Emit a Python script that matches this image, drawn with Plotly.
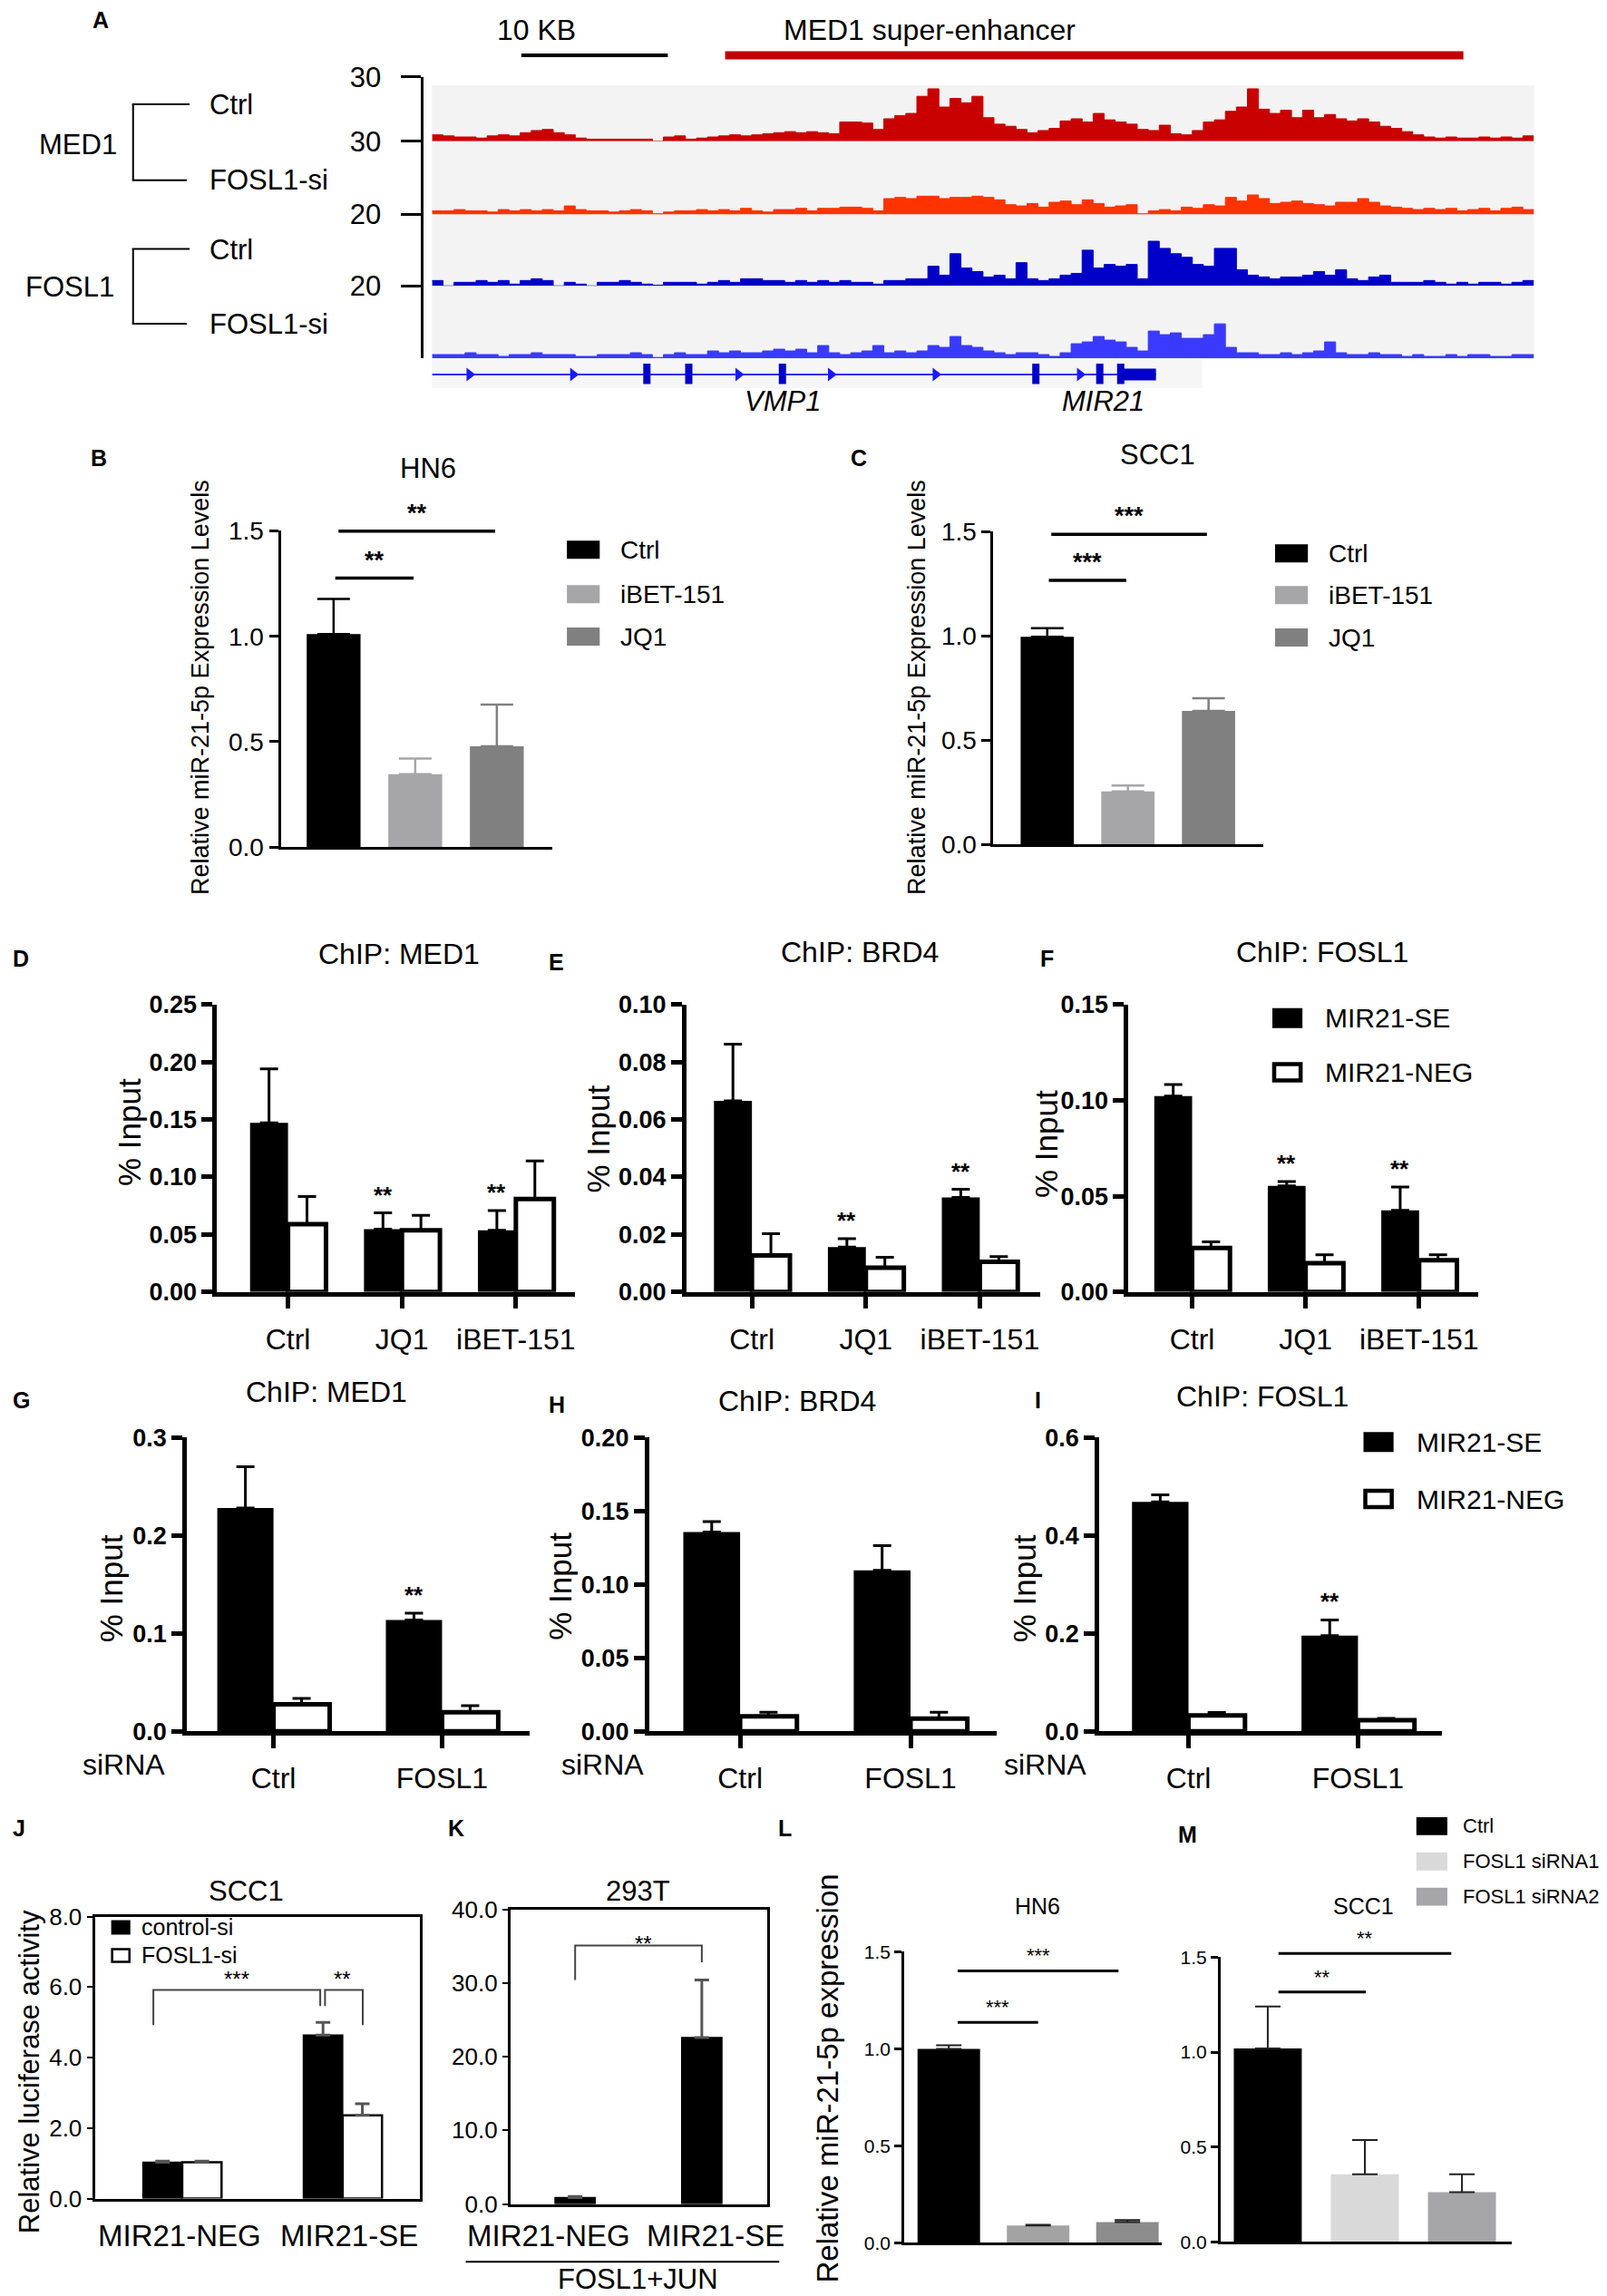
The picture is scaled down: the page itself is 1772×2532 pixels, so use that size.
import plotly.graph_objects as go

W, H = 1772, 2532
FONT = "Liberation Sans, Arial, Helvetica, sans-serif"

# ---------------- A: ChIP-seq coverage at the MIR21 locus (100 bins) ----------------
med1_ctrl = [3, 2.5, 2, 2, 1.5, 2.5, 3, 2.5, 4, 5, 5.5, 4, 3, 1.5, 1, 1, 1, 1, 1, 1,
             0, 2, 2.5, 1, 1.5, 2, 2.5, 3, 2.5, 3, 3.5, 4, 4.5, 4, 4.5, 4, 3.5, 9, 9, 8.5,
             5.5, 10.5, 12, 13, 21, 24.5, 16, 20, 18, 21, 11, 8, 7, 5.5, 4, 5, 6, 9.5, 10.5, 9,
             13, 10, 9, 8, 5.5, 5, 7.5, 3.5, 3, 5, 9, 10, 14, 16, 24.5, 15, 13, 14.5, 11, 14.5,
             11, 12.5, 10.5, 9.5, 10.5, 9, 7, 6, 4.5, 3, 2, 1.5, 2, 1.5, 1.5, 2, 1.5, 2, 1.5, 2.5]
med1_fosl1si = [1.5, 1.5, 2, 1.5, 1.5, 1, 2, 1.5, 2, 1.5, 2, 1.5, 3.5, 2, 1.5, 1.5, 1, 1.5, 2, 1.5,
                0.3, 1, 1.5, 1.5, 2, 1.5, 2, 1.5, 2.5, 1.5, 1, 2, 2, 2.5, 1.5, 2.5, 2.5, 3, 3, 2.5,
                1.5, 6.5, 7, 6.5, 7.5, 7.5, 6.5, 7, 7, 7.5, 7, 6, 4, 3.5, 4.5, 3, 5, 5.5, 4, 6,
                4.5, 3, 3.5, 4, 0.3, 1.5, 2, 1.5, 3, 2.5, 4, 3.5, 7, 5.5, 8, 6.5, 4.5, 5, 5.5, 4.5,
                4, 3.5, 5, 5, 6.5, 5, 3.5, 3, 2.5, 2, 2.5, 2, 2.5, 1.5, 2, 2.5, 1.5, 2.5, 3, 2]
fosl1_ctrl = [1.5, 0, 1, 1, 1.5, 1, 1.5, 0.5, 1.5, 2, 1.5, 0, 1, 0.5, 0, 1, 1, 1.5, 1, 0.5,
              0.2, 1, 1, 1, 0.5, 1, 1.5, 1, 2, 2, 1.5, 1.5, 1, 1.5, 1, 1.5, 1, 1.5, 1, 1,
              0.5, 1.5, 1.5, 2, 2, 5.5, 3, 9, 5, 4, 2.5, 3, 2, 6.5, 2, 1.5, 2, 3, 3.5, 10,
              5, 6, 5.5, 6, 2, 12.5, 10.5, 9, 8, 6, 5.5, 10.5, 10.5, 4.5, 3, 2.5, 2, 2.5, 2.5, 3,
              4, 3, 4.5, 2, 1.5, 2.5, 3, 1, 1, 1, 1.5, 1, 0.5, 1, 0.5, 1, 1, 0.5, 1, 1.5]
fosl1_fosl1si = [1, 1, 1, 1.5, 1, 1, 0.5, 1, 1, 1.5, 1, 1, 1, 0.5, 0.5, 1, 1, 1, 1.5, 1,
                 0.2, 1, 1.5, 1, 1, 2, 1.5, 2, 1.5, 1.5, 2, 2.5, 2, 2.5, 1.5, 3.5, 1.5, 1, 1.5, 2,
                 3.5, 1.5, 2, 1.5, 2, 3.5, 3, 6, 3.5, 3, 2, 1.5, 1, 1.5, 1.5, 1, 0.5, 1.5, 4, 4.5,
                 6, 5, 4.5, 3, 2, 7.5, 6.5, 7, 5.5, 5.5, 6.5, 9.5, 3, 1.5, 1.5, 1, 1, 1.5, 1, 1.5,
                 2, 4.5, 1.5, 1, 1, 1.5, 1, 1, 0.5, 1, 0.5, 0.5, 1, 0.5, 1, 1, 0.5, 0.5, 1, 1]
track_max = [30, 30, 20, 20]
exon_bins = [19.5, 23.3, 31.8, 54.8, 60.6]
arrow_bins = [3.4, 12.8, 27.8, 36.2, 45.7, 58.8]
mir21_bins = [62.5, 65.7]
super_enhancer_bins = [26.6, 93.6]
scale_10kb_bins = [8.1, 21.4]

# ---------------- B, C: miR-21-5p after BET inhibition ----------------
bet_groups = ["Ctrl", "iBET-151", "JQ1"]
hn6_mean = [1.01, 0.346, 0.479]
hn6_sd = [0.167, 0.074, 0.197]
scc1_mean = [0.996, 0.255, 0.641]
scc1_sd = [0.042, 0.028, 0.060]

# ---------------- D-F: ChIP-qPCR after BET inhibition ----------------
chip_groups = ["Ctrl", "JQ1", "iBET-151"]
med1_se, med1_se_sd = [0.147, 0.0547, 0.0537], [0.047, 0.014, 0.017]
med1_neg, med1_neg_sd = [0.0589, 0.0537, 0.0809], [0.024, 0.013, 0.033]
brd4_se, brd4_se_sd = [0.0665, 0.0156, 0.0329], [0.0197, 0.0029, 0.0028]
brd4_neg, brd4_neg_sd = [0.0127, 0.0084, 0.0105], [0.0076, 0.0037, 0.0018]
fosl1_se, fosl1_se_sd = [0.1022, 0.0553, 0.0426], [0.006, 0.0023, 0.0122]
fosl1_neg, fosl1_neg_sd = [0.0229, 0.015, 0.0166], [0.0032, 0.0044, 0.0028]

# ---------------- G-I: ChIP-qPCR after FOSL1 knockdown ----------------
si_groups = ["Ctrl", "FOSL1"]
g_se, g_se_sd = [0.2281, 0.1136], [0.042, 0.007]
g_neg, g_neg_sd = [0.0276, 0.0193], [0.006, 0.0068]
h_se, h_se_sd = [0.1357, 0.1095], [0.007, 0.0168]
h_neg, h_neg_sd = [0.0102, 0.0086], [0.0027, 0.0043]
i_se, i_se_sd = [0.4685, 0.1955], [0.0141, 0.0318]
i_neg, i_neg_sd = [0.0324, 0.0226], [0.0061, 0.0037]

# ---------------- J, K: luciferase ----------------
luc_groups = ["MIR21-NEG", "MIR21-SE"]
j_ctrl, j_ctrl_sd = [1.03, 4.64], [0.03, 0.36]
j_fosl1, j_fosl1_sd = [1.03, 2.36], [0.03, 0.33]
k_vals, k_sd = [0.86, 22.6], [0.15, 7.8]

# ---------------- L, M: miR-21-5p after FOSL1 knockdown ----------------
sirna_groups = ["Ctrl", "FOSL1 siRNA1", "FOSL1 siRNA2"]
l_mean, l_sd = [1.0, 0.09, 0.107], [0.018, 0.003, 0.011]
m_mean, m_sd = [1.02, 0.357, 0.262], [0.22, 0.18, 0.095]

fig = go.Figure()
axes = {}
annos = []
shapes = []
count = [0]


# layout positions are given in reference pixels; small stretch to line up with the page
def X(p):
    return (1.005 * p - 10) / W


def Y(p):
    return 1 - (1.01 * p - 18) / H


def new_axes(x0, x1, ytop, ybot, xr, yr, xo=None, yo=None):
    count[0] += 1
    k = "" if count[0] == 1 else str(count[0])
    base = dict(showgrid=False, zeroline=False, showticklabels=False, ticks="", showline=False, fixedrange=True)
    xa = dict(base, domain=[X(x0), X(x1)], range=xr, anchor="y" + k)
    ya = dict(base, domain=[Y(ybot), Y(ytop)], range=yr, anchor="x" + k)
    xa.update(xo or {})
    ya.update(yo or {})
    axes["xaxis" + k] = xa
    axes["yaxis" + k] = ya
    return "x" + k, "y" + k


def ptxt(x, y, s, size, xanchor="center", angle=0):
    annos.append(dict(x=X(x), y=Y(y), xref="paper", yref="paper", text=s, showarrow=False,
                      font=dict(family=FONT, size=size, color="black"),
                      xanchor=xanchor, yanchor="middle", textangle=angle))


def prect(x0, y0, x1, y1, fill, line="black", lw=0, layer="above"):
    shapes.append(dict(type="rect", xref="paper", yref="paper", x0=X(x0), x1=X(x1), y0=Y(y1), y1=Y(y0),
                       fillcolor=fill, line=dict(color=line, width=lw), layer=layer))


def pline(x0, y0, x1, y1, color="black", lw=2):
    shapes.append(dict(type="line", xref="paper", yref="paper", x0=X(x0), x1=X(x1), y0=Y(y0), y1=Y(y1),
                       line=dict(color=color, width=lw)))


def vy(geo, v):
    # value -> paper y through the panel's own y scale
    ytop, ybot, ymax = geo
    y0, y1 = Y(ybot), Y(ytop)
    return y0 + v / ymax * (y1 - y0)


def bracket(xa, geo, xs, ys, color="black", lw=3):
    path = "M " + " L ".join(f"{x},{vy(geo, y)}" for x, y in zip(xs, ys))
    shapes.append(dict(type="path", xref=xa, yref="paper", path=path, line=dict(color=color, width=lw)))


def stars(xa, geo, x, y, s, size, shift=2, bold=True):
    annos.append(dict(x=x, y=vy(geo, y), xref=xa, yref="paper", text=f"<b>{s}</b>" if bold else s,
                      showarrow=False, font=dict(family=FONT, size=size, color="black"),
                      xanchor="center", yanchor="bottom", yshift=shift))


def err(sd, color, thick, w):
    return dict(type="data", symmetric=False, array=list(sd), arrayminus=[0] * len(sd),
                color=color, thickness=thick, width=w)


# ================= Panel A =================
ptxt(112, 15, "<b>A</b>", 25)
prect(476, 87, 1685, 390, "#f3f3f3", layer="below")
prect(476, 390, 1321, 422, "#f6f6f6", layer="below")
rows = [(78, 149), (149, 230), (230, 309), (309, 389)]
colors_a = ["#c80000", "#ff3300", "#0000c8", "#3a3aff"]
for vals, (yt, yb), c, m in zip([med1_ctrl, med1_fosl1si, fosl1_ctrl, fosl1_fosl1si], rows, colors_a, track_max):
    xa, ya = new_axes(476, 1685, yt, yb, [0, len(vals)], [0, m],
                      yo=dict(anchor="free", position=X(465), showline=True, linewidth=3, linecolor="black",
                              ticks="outside", ticklen=22, tickwidth=3, tickcolor="black",
                              tickvals=[m], ticktext=[str(m)], showticklabels=True, ticklabelstandoff=16,
                              tickfont=dict(family=FONT, size=31, color="black")))
    fig.add_trace(go.Scatter(x=list(range(len(vals) + 1)), y=vals + [vals[-1]], mode="lines",
                             line=dict(shape="hv", color=c, width=1), fill="tozeroy", fillcolor=c,
                             xaxis=xa, yaxis=ya, showlegend=False, hoverinfo="skip"))

# scale bar and super-enhancer bar
xa, ya = new_axes(476, 1685, 45, 63, [0, 100], [0, 1])
fig.add_trace(go.Scatter(x=super_enhancer_bins, y=[0.5, 0.5], mode="lines", line=dict(color="#c00000", width=9),
                         xaxis=xa, yaxis=ya, showlegend=False, hoverinfo="skip"))
fig.add_trace(go.Scatter(x=scale_10kb_bins, y=[0.5, 0.5], mode="lines", line=dict(color="black", width=4),
                         xaxis=xa, yaxis=ya, showlegend=False, hoverinfo="skip"))
ptxt(591, 26, "10 KB", 32)
ptxt(1022, 26, "MED1 super-enhancer", 32)

# gene model
xa, ya = new_axes(476, 1685, 392, 422, [0, 100], [0, 1])
fig.add_trace(go.Scatter(x=[0, mir21_bins[1]], y=[0.5, 0.5], mode="lines", line=dict(color="#2a2aff", width=2),
                         xaxis=xa, yaxis=ya, showlegend=False, hoverinfo="skip"))
ex, ey = [], []
for b in exon_bins + [mir21_bins[0]]:
    ex += [b, b, None]
    ey += [0.15, 0.9, None]
fig.add_trace(go.Scatter(x=ex, y=ey, mode="lines", line=dict(color="#0000c8", width=8),
                         xaxis=xa, yaxis=ya, showlegend=False, hoverinfo="skip"))
fig.add_trace(go.Scatter(x=mir21_bins, y=[0.5, 0.5], mode="lines", line=dict(color="#0000c8", width=13),
                         xaxis=xa, yaxis=ya, showlegend=False, hoverinfo="skip"))
fig.add_trace(go.Scatter(x=arrow_bins, y=[0.5] * len(arrow_bins), mode="markers",
                         marker=dict(symbol="triangle-right", size=13, color="#1a1aff"),
                         xaxis=xa, yaxis=ya, showlegend=False, hoverinfo="skip"))
ptxt(861, 437, "<i>VMP1</i>", 31)
ptxt(1212, 437, "<i>MIR21</i>", 31)

# sample labels and brackets
for ytop_b, ybot_b, name, nx, ny in [(108, 192, "MED1", 88, 153), (268, 351, "FOSL1", 79, 310)]:
    pline(148, ytop_b, 148, ybot_b)
    pline(147, ytop_b, 210, ytop_b)
    pline(147, ybot_b, 207, ybot_b)
    ptxt(nx, ny, name, 31)
    ptxt(230, ytop_b + 1, "Ctrl", 31, xanchor="left")
    ptxt(230, ybot_b, "FOSL1-si", 31, xanchor="left")


# ================= Panels B, C =================
def expr_panel(x0, x1, ytop, ybot, xr, means, sds, title, tx, ty, letter, lx, ly, ytx, legx, legy, sigs):
    geo = (ytop, ybot, 1.5)
    xa, ya = new_axes(x0, x1, ytop, ybot, xr, [0, 1.5],
                      xo=dict(showline=True, linewidth=3, linecolor="black"),
                      yo=dict(showline=True, linewidth=3, linecolor="black", ticks="outside", ticklen=10,
                              tickwidth=3, tickcolor="black", tickvals=[0, 0.5, 1.0, 1.5],
                              ticktext=["0.0", "0.5", "1.0", "1.5"], showticklabels=True,
                              tickfont=dict(family=FONT, size=28, color="black")))
    bar_cols = ["#000000", "#a6a6a8", "#808080"]
    for i, (m, s) in enumerate(zip(means, sds)):
        fig.add_trace(go.Bar(x=[i], y=[m], width=0.66, marker=dict(color=bar_cols[i], line=dict(width=0)),
                             error_y=err([s], bar_cols[i], 2.5, 18), xaxis=xa, yaxis=ya, showlegend=False))
    for a, b, lev, s in sigs:
        bracket(xa, geo, [a, b], [lev, lev], lw=3.5)
        stars(xa, geo, (a + b) / 2, lev, s, 27, shift=3)
    ptxt(tx, ty, title, 31)
    ptxt(lx, ly, f"<b>{letter}</b>", 25)
    ptxt(ytx, 753, "Relative miR-21-5p Expression Levels", 27, angle=-90)
    for (yc, g, c) in zip(legy, bet_groups, bar_cols):
        prect(legx, yc - 10, legx + 36, yc + 10, c)
        ptxt(legx + 57, yc, g, 28, xanchor="left")


expr_panel(310, 608, 580, 930, [-0.648, 2.68], hn6_mean, hn6_sd, "HN6", 472, 511, "B", 110, 499, 222,
           624, [601, 650, 697], [(0.02, 0.98, 1.276, "**"), (0.06, 1.98, 1.498, "**")])
expr_panel(1092, 1388, 581, 927, [-0.667, 2.678], scc1_mean, scc1_sd, "SCC1", 1272, 496, "C", 944, 499, 1008,
           1401, [605, 651, 698], [(0.02, 0.98, 1.267, "***"), (0.05, 1.98, 1.488, "***")])


# ================= Panels D-I =================
def chip_panel(x0, x1, ytop, ybot, xr, yticks, fmt, cats, se, se_sd, neg, neg_sd, starred):
    xs = list(range(len(cats)))
    geo = (ytop, ybot, yticks[-1])
    xa, ya = new_axes(x0, x1, ytop, ybot, xr, [0, yticks[-1]],
                      xo=dict(showline=True, linewidth=4.5, linecolor="black", ticks="outside", ticklen=14,
                              tickwidth=4.5, tickcolor="black", tickvals=xs, ticktext=cats,
                              showticklabels=True, tickangle=0, ticklabelstandoff=6,
                              tickfont=dict(family=FONT, size=32, color="black")),
                      yo=dict(showline=True, linewidth=4.5, linecolor="black", ticks="outside", ticklen=12,
                              tickwidth=4.5, tickcolor="black", tickvals=yticks,
                              ticktext=[fmt.format(v) for v in yticks], showticklabels=True,
                              tickfont=dict(family=FONT, size=27, color="black", weight="bold")))
    fig.add_trace(go.Bar(x=xs, y=se, width=1 / 3, offset=-1 / 3, marker=dict(color="black", line=dict(width=0)),
                         error_y=err(se_sd, "black", 3, 10), xaxis=xa, yaxis=ya, showlegend=False))
    fig.add_trace(go.Bar(x=xs, y=neg, width=1 / 3, offset=0,
                         marker=dict(color="white", line=dict(color="black", width=5)),
                         error_y=err(neg_sd, "black", 3, 10), xaxis=xa, yaxis=ya, showlegend=False))
    for i in starred:
        stars(xa, geo, i - 1 / 6, se[i] + se_sd[i], "**", 26, shift=3)
    return xa


def chip_legend(x, y1, y2):
    prect(x, y1 - 11, x + 33, y1 + 11, "black")
    prect(x + 2, y2 - 9, x + 31, y2 + 9, "white", lw=4.5)
    ptxt(x + 56, y1, "MIR21-SE", 30, xanchor="left")
    ptxt(x + 56, y2, "MIR21-NEG", 30, xanchor="left")


chip_panel(240, 633, 1104, 1422, [-0.624, 2.52], [0, 0.05, 0.10, 0.15, 0.20, 0.25], "{:.2f}",
           chip_groups, med1_se, med1_se_sd, med1_neg, med1_neg_sd, [1, 2])
chip_panel(755, 1143, 1104, 1422, [-0.576, 2.528], [0, 0.02, 0.04, 0.06, 0.08, 0.10], "{:.2f}",
           chip_groups, brd4_se, brd4_se_sd, brd4_neg, brd4_neg_sd, [1, 2])
chip_panel(1240, 1624, 1104, 1422, [-0.562, 2.522], [0, 0.05, 0.10, 0.15], "{:.2f}",
           chip_groups, fosl1_se, fosl1_se_sd, fosl1_neg, fosl1_neg_sd, [1, 2])
chip_legend(1398, 1119, 1179)

chip_panel(207, 583, 1583, 1908, [-0.514, 1.519], [0, 0.1, 0.2, 0.3], "{:.1f}",
           si_groups, g_se, g_se_sd, g_neg, g_neg_sd, [1])
chip_panel(714, 1096, 1583, 1908, [-0.535, 1.508], [0, 0.05, 0.10, 0.15, 0.20], "{:.2f}",
           si_groups, h_se, h_se_sd, h_neg, h_neg_sd, [])
chip_panel(1208, 1584, 1583, 1908, [-0.527, 1.495], [0, 0.2, 0.4, 0.6], "{:.1f}",
           si_groups, i_se, i_se_sd, i_neg, i_neg_sd, [1])
chip_legend(1498, 1588, 1651)

for letter, lx, ly, title, tx, ty, yx, yy in [
        ("D", 14, 1053, "ChIP: MED1", 440, 1048, 144, 1245),
        ("E", 602, 1057, "ChIP: BRD4", 945, 1046, 658, 1253),
        ("F", 1141, 1053, "ChIP: FOSL1", 1453, 1046, 1150, 1258),
        ("G", 14, 1542, "ChIP: MED1", 360, 1533, 124, 1750),
        ("H", 602, 1547, "ChIP: BRD4", 877, 1543, 617, 1748),
        ("I", 1135, 1542, "ChIP: FOSL1", 1387, 1538, 1126, 1750)]:
    ptxt(lx, ly, f"<b>{letter}</b>", 25, xanchor="left")
    ptxt(tx, ty, title, 32)
    ptxt(yx, yy, "% Input", 35, angle=-90)
for sx in [138, 663, 1149]:
    ptxt(sx, 1945, "siRNA", 32)

# ================= Panel J =================
geo_j = (2113, 2425, 8)
xa, ya = new_axes(106, 463, 2113, 2425, [-0.545, 1.483], [0, 8],
                  xo=dict(showline=True, mirror=True, linewidth=3, linecolor="black"),
                  yo=dict(showline=True, mirror=True, linewidth=3, linecolor="black", ticks="outside",
                          ticklen=6, tickwidth=2, tickcolor="black", tickvals=[0, 2, 4, 6, 8],
                          ticktext=["0.0", "2.0", "4.0", "6.0", "8.0"], showticklabels=True,
                          tickfont=dict(family=FONT, size=26, color="black")))
fig.add_trace(go.Bar(x=[0, 1], y=j_ctrl, width=0.245, offset=-0.245,
                     marker=dict(color="black", line=dict(color="black", width=1.5)),
                     error_y=err(j_ctrl_sd, "#555555", 3, 8), xaxis=xa, yaxis=ya, showlegend=False))
fig.add_trace(go.Bar(x=[0, 1], y=j_fosl1, width=0.245, offset=0,
                     marker=dict(color="white", line=dict(color="black", width=2.5)),
                     error_y=err(j_fosl1_sd, "#555555", 3, 8), xaxis=xa, yaxis=ya, showlegend=False))
bracket(xa, geo_j, [-0.18, -0.18, 0.86, 0.86], [4.92, 5.92, 5.92, 5.46], color="#444444", lw=2)
bracket(xa, geo_j, [0.89, 0.89, 1.125, 1.125], [5.46, 5.92, 5.92, 4.92], color="#444444", lw=2)
stars(xa, geo_j, 0.34, 5.92, "***", 24, shift=-4, bold=False)
stars(xa, geo_j, 1.0, 5.92, "**", 24, shift=-4, bold=False)
prect(124, 2117, 145, 2133, "black")
prect(125, 2149, 144, 2163, "white", lw=2.5)
ptxt(155, 2124, "control-si", 25, xanchor="left")
ptxt(155, 2156, "FOSL1-si", 25, xanchor="left")
ptxt(199, 2466, luc_groups[0], 33)
ptxt(385, 2466, luc_groups[1], 33)
ptxt(272, 2085, "SCC1", 31)
ptxt(14, 2015, "<b>J</b>", 25, xanchor="left")
ptxt(34, 2285, "Relative luciferase activity", 31, angle=-90)

# ================= Panel K =================
geo_k = (2105, 2431, 40)
xa, ya = new_axes(562, 844, 2105, 2431, [-0.511, 1.518], [0, 40],
                  xo=dict(showline=True, mirror=True, linewidth=3, linecolor="black"),
                  yo=dict(showline=True, mirror=True, linewidth=3, linecolor="black", ticks="outside",
                          ticklen=6, tickwidth=2, tickcolor="black", tickvals=[0, 10, 20, 30, 40],
                          ticktext=["0.0", "10.0", "20.0", "30.0", "40.0"], showticklabels=True,
                          tickfont=dict(family=FONT, size=26, color="black")))
fig.add_trace(go.Bar(x=[0, 1], y=k_vals, width=0.317, marker=dict(color="black", line=dict(color="black", width=1.5)),
                     error_y=err(k_sd, "#555555", 3, 8), xaxis=xa, yaxis=ya, showlegend=False))
bracket(xa, geo_k, [0, 0, 1, 1], [30.4, 35.1, 35.1, 32.8], color="#444444", lw=2)
stars(xa, geo_k, 0.54, 35.1, "**", 24, shift=-14, bold=False)
ptxt(604, 2466, luc_groups[0], 33)
ptxt(787, 2466, luc_groups[1], 33)
pline(513, 2495, 857, 2495, lw=2)
ptxt(702, 2514, "FOSL1+JUN", 31)
ptxt(702, 2085, "293T", 31)
ptxt(502, 2015, "<b>K</b>", 25)


# ================= Panels L, M =================
def mir_panel(x0, x1, ytop, ybot, xr, means, sds, cols, sigs, star):
    geo = (ytop, ybot, 1.5)
    xa, ya = new_axes(x0, x1, ytop, ybot, xr, [0, 1.5],
                      xo=dict(showline=True, linewidth=2.5, linecolor="black"),
                      yo=dict(showline=True, linewidth=2.5, linecolor="black", ticks="outside", ticklen=8,
                              tickwidth=2.5, tickcolor="black", tickvals=[0, 0.5, 1.0, 1.5],
                              ticktext=["0.0", "0.5", "1.0", "1.5"], showticklabels=True,
                              tickfont=dict(family=FONT, size=21, color="black")))
    for i, (m, s) in enumerate(zip(means, sds)):
        fig.add_trace(go.Bar(x=[i], y=[m], width=0.7, marker=dict(color=cols[i], line=dict(width=0)),
                             error_y=err([s], "#222222", 2, 14), xaxis=xa, yaxis=ya, showlegend=False))
    for a, b, lev in sigs:
        bracket(xa, geo, [a, b], [lev, lev], lw=3)
        stars(xa, geo, (a + b) / 2, lev, star, 22, shift=2, bold=False)


mir_panel(994, 1277, 2152, 2474, [-0.5, 2.388], l_mean, l_sd, ["#000000", "#a3a3a3", "#8c8c8c"],
          [(0.1, 1.0, 1.136), (0.1, 1.9, 1.402)], "***")
m_cols = ["#000000", "#d9d9d9", "#a6a6a8"]
mir_panel(1341, 1661, 2158, 2473, [-0.488, 2.516], m_mean, m_sd, m_cols,
          [(0.11, 1.01, 1.317), (0.11, 1.89, 1.52)], "**")
ptxt(1140, 2101, "HN6", 25)
ptxt(1498, 2101, "SCC1", 25)
ptxt(863, 2015, "<b>L</b>", 25)
ptxt(1305, 2022, "<b>M</b>", 25)
ptxt(910, 2292, "Relative miR-21-5p expression", 33, angle=-90)
for yc, g, c in zip([2013, 2052, 2091], sirna_groups, m_cols):
    prect(1556, yc - 10, 1590, yc + 10, c)
    ptxt(1605, yc, g, 22, xanchor="left")

fig.update_layout(**axes)
fig.update_layout(width=W, height=H, autosize=False, margin=dict(l=0, r=0, t=0, b=0),
                  paper_bgcolor="white", plot_bgcolor="rgba(0,0,0,0)", showlegend=False,
                  barmode="overlay", annotations=annos, shapes=shapes,
                  font=dict(family=FONT, color="black"))
fig.write_html("out.html", config={"displayModeBar": False})
